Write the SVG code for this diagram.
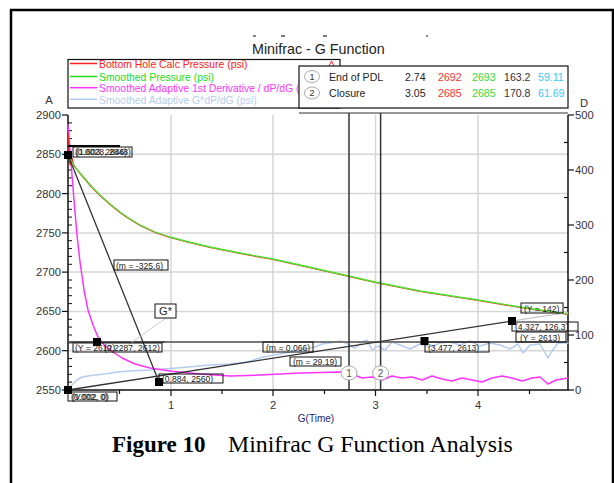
<svg xmlns="http://www.w3.org/2000/svg" width="614" height="483" viewBox="0 0 614 483">
<style>
text{font-family:"Liberation Sans",Arial,sans-serif}
.tk{font-size:11.2px;fill:#333}
.lg{font-size:10.4px}
.tb{font-size:10.6px}
.cn{font-size:9px}
.lb{font-size:8.6px;fill:#222}
.cap{font-family:"Liberation Serif","Times New Roman",serif;font-size:23.8px;fill:#000}
.lbox{fill:none;stroke:#111;stroke-width:1}
.grid{stroke:#d6d6d6;stroke-width:1.5}
.ax{stroke:#111;stroke-width:1.5;fill:none}
.mk{fill:#000}
.cur{fill:none;stroke-linejoin:round;stroke-linecap:round}
</style>
<rect width="614" height="483" fill="#fff"/>
<path d="M11,483 V10 H613 V483" fill="none" stroke="#000" stroke-width="2.5"/>
<g stroke="#222" stroke-width="1.2">
<line x1="253" y1="36" x2="256" y2="36"/><line x1="281" y1="36" x2="285" y2="36"/><line x1="323" y1="36" x2="327" y2="36"/><line x1="426" y1="36" x2="428" y2="36"/>
</g>
<text x="252" y="54" font-size="14.3" fill="#222">Minifrac - G Function</text>
<g class="grid">
<line x1="171" y1="115" x2="171" y2="390"/><line x1="273" y1="115" x2="273" y2="390"/><line x1="375.5" y1="115" x2="375.5" y2="390"/><line x1="478" y1="115" x2="478" y2="390"/>
<line x1="68" y1="154.3" x2="568" y2="154.3"/><line x1="68" y1="193.6" x2="568" y2="193.6"/><line x1="68" y1="232.9" x2="568" y2="232.9"/><line x1="68" y1="272.1" x2="568" y2="272.1"/><line x1="68" y1="311.4" x2="568" y2="311.4"/><line x1="68" y1="350.7" x2="568" y2="350.7"/>
</g>
<g id="axes">
<path class="ax" d="M68,115 V390 H568 V115"/>
<line x1="299" y1="113" x2="568" y2="113" stroke="#333" stroke-width="1"/>
<g stroke="#111" stroke-width="1.2">
<line x1="62" y1="115" x2="68" y2="115"/><line x1="62" y1="154.3" x2="68" y2="154.3"/><line x1="62" y1="193.6" x2="68" y2="193.6"/><line x1="62" y1="232.9" x2="68" y2="232.9"/><line x1="62" y1="272.1" x2="68" y2="272.1"/><line x1="62" y1="311.4" x2="68" y2="311.4"/><line x1="62" y1="350.7" x2="68" y2="350.7"/><line x1="62" y1="390" x2="68" y2="390"/>
<line x1="568" y1="115" x2="574" y2="115"/><line x1="568" y1="170" x2="574" y2="170"/><line x1="568" y1="225" x2="574" y2="225"/><line x1="568" y1="280" x2="574" y2="280"/><line x1="568" y1="335" x2="574" y2="335"/><line x1="568" y1="390" x2="574" y2="390"/>
<line x1="564" y1="142.5" x2="568" y2="142.5"/><line x1="564" y1="197.5" x2="568" y2="197.5"/><line x1="564" y1="252.5" x2="568" y2="252.5"/><line x1="564" y1="307.5" x2="568" y2="307.5"/><line x1="564" y1="362.5" x2="568" y2="362.5"/>
<line x1="171" y1="390" x2="171" y2="396"/><line x1="273" y1="390" x2="273" y2="396"/><line x1="375.5" y1="390" x2="375.5" y2="396"/><line x1="478" y1="390" x2="478" y2="396"/>
<line x1="119.5" y1="390" x2="119.5" y2="394"/><line x1="222" y1="390" x2="222" y2="394"/><line x1="324.5" y1="390" x2="324.5" y2="394"/><line x1="427" y1="390" x2="427" y2="394"/><line x1="529.5" y1="390" x2="529.5" y2="394"/>
</g>
<g stroke="#111" stroke-width="1">
<path d="M68,122.9h4M68,130.7h4M68,138.6h4M68,146.4h4M68,162.1h4M68,170h4M68,177.9h4M68,185.7h4M68,201.4h4M68,209.3h4M68,217.1h4M68,225h4M68,240.7h4M68,248.6h4M68,256.4h4M68,264.3h4M68,280h4M68,287.9h4M68,295.7h4M68,303.6h4M68,319.3h4M68,327.1h4M68,335h4M68,342.9h4M68,358.6h4M68,366.4h4M68,374.3h4M68,382.1h4"/>
</g>
<g class="tk" text-anchor="end">
<text x="61" y="119">2900</text><text x="61" y="158.3">2850</text><text x="61" y="197.6">2800</text><text x="61" y="236.9">2750</text><text x="61" y="276.1">2700</text><text x="61" y="315.4">2650</text><text x="61" y="354.7">2600</text><text x="61" y="394">2550</text>
</g>
<g class="tk">
<text x="575" y="119">500</text><text x="575" y="174">400</text><text x="575" y="229">300</text><text x="575" y="284">200</text><text x="575" y="339">100</text><text x="575" y="394">0</text>
</g>
<g class="tk" text-anchor="middle">
<text x="171" y="409">1</text><text x="273" y="409">2</text><text x="375.5" y="409">3</text><text x="478" y="409">4</text>
</g>
<text x="49" y="104" class="tk" text-anchor="middle">A</text>
<text x="584" y="107" class="tk" text-anchor="middle">D</text>
<text x="316" y="422" font-size="10" fill="#23236b" text-anchor="middle">G(Time)</text>
</g>
<g id="curves">
<polyline class="cur" stroke="#b4ccf0" stroke-width="1.5" points="68,390 70,387 73,384 77,380 82,377 88,376 95,375 105,374 117,372 130,371 150,370 177,368 210,365 230,364 247,362 263,357 280,354 300,350 315,347 322,344 330,343 340,341 348,344 355,348 362,342 367,340 372,350 378,346 385,350 392,342 400,345 410,349 420,344 430,347 440,343 450,342 460,345 470,341 480,346 490,343 500,345 510,349 518,344 523,353 530,345 540,344 548,358 552,351 558,343 568,343"/>
<polyline class="cur" stroke="#ff33ff" stroke-width="1.5" points="68,125 70,150 72,175 74,200 77,235 80,262 84,290 88,310 93,325 98,337 105,346 113,352 122,358 135,364 150,368 170,371 200,374 230,376 260,375 300,373 340,372 352,374 362,378 372,377 382,380 392,376 402,378 412,377 422,380 432,376 442,379 452,381 462,378 472,380 482,382 492,378 502,376 512,378 522,381 532,378 540,377 548,384 556,380 568,378"/>
<polyline class="cur" stroke="#ff2020" stroke-width="1.2" points="68,132 69,150 70,165 72,158 74,166 76,168.5 80,173.5 86,180.5 92,187.5 100,195.5 110,204.5 120,212.5 127,217.5 140,225.5 155,232.5 170,237.5 185,241.5 210,247.5 240,253.5 273,259.5 300,265.5 340,274.5 375,282.5 420,291.5 478,300.5 520,307.5 568,314.5"/>
<polyline class="cur" stroke="#4ce22a" stroke-width="1.3" points="68,155 72,162 76,168 80,173 86,180 92,187 100,195 110,204 120,212 127,217 140,225 155,232 170,237 185,241 210,247 240,253 273,259 300,265 340,274 375,282 420,291 478,300 520,307 568,314"/>
</g>
<g id="connectors">
<line x1="68" y1="342" x2="568" y2="342" stroke="#777" stroke-width="2"/>
<line x1="68" y1="342" x2="165" y2="342" stroke="#555" stroke-width="2"/>
<line x1="349" y1="113" x2="349" y2="390" stroke="#333" stroke-width="1.5"/>
<line x1="380.6" y1="113" x2="380.6" y2="390" stroke="#333" stroke-width="1.5"/>
<line x1="68" y1="155" x2="159" y2="382" stroke="#333" stroke-width="1.3"/>
<line x1="68" y1="390" x2="512" y2="321" stroke="#333" stroke-width="1.3"/>
<line x1="512" y1="321" x2="568" y2="312.5" stroke="#bbb" stroke-width="1"/>
<line x1="166" y1="318" x2="128" y2="345" stroke="#ccc" stroke-width="1"/>
</g>
<g id="markers">
<rect class="mk" x="64" y="151" width="8" height="8"/>
<rect class="mk" x="93" y="338" width="8" height="8"/>
<rect class="mk" x="155" y="378" width="8" height="8"/>
<rect class="mk" x="64" y="386" width="8" height="8"/>
<rect class="mk" x="420.5" y="337" width="8" height="8"/>
<rect class="mk" x="508" y="317" width="8" height="8"/>
</g>
<g id="event1"><ellipse cx="349" cy="373" rx="8" ry="7" fill="#fff" stroke="#aaa"/><text x="349" y="377" font-size="10" fill="#555" text-anchor="middle">1</text></g>
<g id="event2"><ellipse cx="380.6" cy="373" rx="8" ry="7" fill="#fff" stroke="#aaa"/><text x="380.6" y="377" font-size="10" fill="#555" text-anchor="middle">2</text></g>
<g id="labels">
<line x1="68" y1="146" x2="120" y2="146" stroke="#000" stroke-width="2"/>
<rect class="lbox" x="73" y="147" width="59" height="10"/>
<text class="lb" x="75" y="155">(0.0028, 2848)</text>
<text class="lb" x="76" y="155">(1.603, 2846)</text>
<rect class="lbox" x="114" y="260" width="54" height="10"/>
<text class="lb" x="116" y="268.5">(m = -325.6)</text>
<rect x="155" y="304" width="21" height="14" fill="#fff" stroke="#111"/>
<text x="165.5" y="315" font-size="11" fill="#222" text-anchor="middle">G*</text>
<rect class="lbox" x="73" y="343" width="89" height="9"/>
<text class="lb" x="75" y="351">(Y = 2612)</text>
<text class="lb" x="104" y="351">(0.2287, 2612)</text>
<rect class="lbox" x="159" y="374" width="64" height="9"/>
<text class="lb" x="162" y="382">(0.884, 2560)</text>
<rect class="lbox" x="68" y="392" width="49" height="9"/>
<text class="lb" x="71" y="400">(0.002, 0)</text>
<text class="lb" x="72" y="400">(V.002, 0)</text>
<rect class="lbox" x="263" y="342" width="50" height="10"/>
<text class="lb" x="266" y="350.5">(m = 0.066)</text>
<rect class="lbox" x="290" y="357" width="51" height="9"/>
<text class="lb" x="293" y="365">(m = 29.19)</text>
<rect class="lbox" x="425" y="342" width="64" height="10"/>
<text class="lb" x="428" y="350.5">(3.477, 2613)</text>
<rect class="lbox" x="512" y="322" width="66" height="9"/>
<text class="lb" x="515" y="330">(4.327, 126.3)</text>
<rect class="lbox" x="516" y="332" width="50" height="10"/>
<text class="lb" x="520" y="340.5">(Y = 2613)</text>
<rect class="lbox" x="521" y="303" width="42" height="10"/>
<text class="lb" x="524" y="311.5">(Y = 142)</text>
</g>
<g id="legend">
<rect x="68" y="59.5" width="272" height="48.5" fill="#fff" stroke="#111" stroke-width="1.2"/>
<line x1="70" y1="63.5" x2="97" y2="63.5" stroke="#ff2020" stroke-width="1.5"/>
<text class="lg" x="99" y="68" fill="#ff2020">Bottom Hole Calc Pressure (psi)</text>
<line x1="70" y1="76.5" x2="97" y2="76.5" stroke="#22dd22" stroke-width="1.5"/>
<text class="lg" x="99" y="80.5" fill="#22dd22">Smoothed Pressure (psi)</text>
<line x1="70" y1="87.7" x2="97" y2="87.7" stroke="#ff33ff" stroke-width="1.5"/>
<text class="lg" x="99" y="92" fill="#ff33ff">Smoothed Adaptive 1st Derivative / dP/dG (psi)</text>
<line x1="70" y1="99.3" x2="97" y2="99.3" stroke="#b4ccf0" stroke-width="1.5"/>
<text class="lg" x="99" y="103.5" fill="#b4ccf0">Smoothed Adaptive G*dP/dG (psi)</text>
<polyline points="329,66 331.5,61 334,66" fill="none" stroke="#ff2020" stroke-width="1"/>
</g>
<g id="table">
<rect x="299" y="66" width="269" height="42" fill="#fff" stroke="#111" stroke-width="1.2"/>
<ellipse cx="312" cy="76.5" rx="7.5" ry="6" fill="#fff" stroke="#aaa"/>
<text class="cn" x="312" y="79.8" text-anchor="middle" fill="#333">1</text>
<ellipse cx="312" cy="93" rx="7.5" ry="6" fill="#fff" stroke="#aaa"/>
<text class="cn" x="312" y="96.3" text-anchor="middle" fill="#333">2</text>
<text class="tb" x="329" y="80.5" fill="#222">End of PDL</text>
<text class="tb" x="405" y="80.5" fill="#222">2.74</text>
<text class="tb" x="438" y="80.5" fill="#ff3030">2692</text>
<text class="tb" x="472" y="80.5" fill="#33dd33">2693</text>
<text class="tb" x="504" y="80.5" fill="#333">163.2</text>
<text class="tb" x="538" y="80.5" fill="#33ccff">59.11</text>
<text class="tb" x="329" y="97" fill="#222">Closure</text>
<text class="tb" x="405" y="97" fill="#222">3.05</text>
<text class="tb" x="438" y="97" fill="#ff3030">2685</text>
<text class="tb" x="472" y="97" fill="#33dd33">2685</text>
<text class="tb" x="504" y="97" fill="#333">170.8</text>
<text class="tb" x="538" y="97" fill="#33ccff">61.69</text>
</g>
<g id="caption">
<text class="cap" x="112" y="452" font-weight="bold" style="font-size:23px">Figure 10</text>
<text class="cap" x="228" y="452">Minifrac G Function Analysis</text>
</g>
</svg>
